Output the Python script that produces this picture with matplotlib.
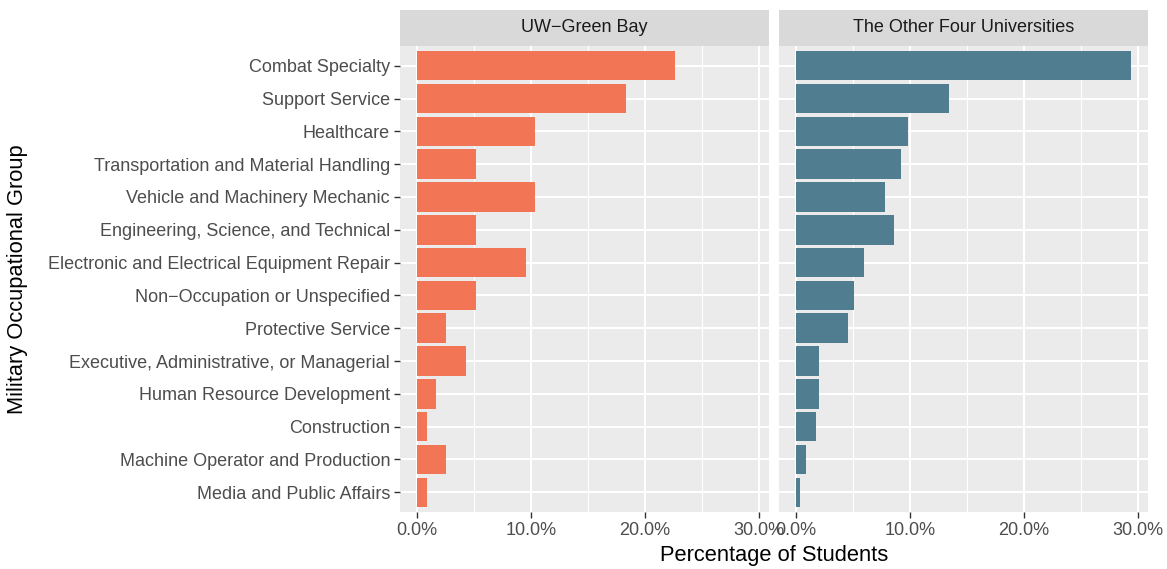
import numpy as np
from matplotlib import pyplot as plt

plt.rcParams['font.family'] = ['Liberation Sans', 'DejaVu Sans']

categories = [
    'Combat Specialty',
    'Support Service',
    'Healthcare',
    'Transportation and Material Handling',
    'Vehicle and Machinery Mechanic',
    'Engineering, Science, and Technical',
    'Electronic and Electrical Equipment Repair',
    'Non\u2212Occupation or Unspecified',
    'Protective Service',
    'Executive, Administrative, or Managerial',
    'Human Resource Development',
    'Construction',
    'Machine Operator and Production',
    'Media and Public Affairs',
]
green_bay = [22.6, 18.3, 10.4, 5.2, 10.4, 5.2, 9.6, 5.2, 2.6, 4.3, 1.7, 0.9, 2.6, 0.9]
other_four = [29.4, 13.4, 9.8, 9.2, 7.8, 8.6, 6.0, 5.1, 4.6, 2.0, 2.0, 1.8, 0.9, 0.4]
panel_titles = ['UW\u2212Green Bay', 'The Other Four Universities']
colors = ['#F27656', '#507D8F']
x_ticks = [0, 10, 20, 30]
x_tick_labels = ['0.0%', '10.0%', '20.0%', '30.0%']

W, H = 1167, 569
fig = plt.figure(figsize=(W / 100, H / 100), dpi=100)

panel_px = [(400, 769), (779, 1148)]
top, bottom, strip_top = 46, 512, 10
y = np.arange(len(categories))
xmax = max(max(green_bay), max(other_four))
xlim = (-0.05 * xmax, 1.05 * xmax)

for i, (vals, title, col) in enumerate(zip([green_bay, other_four], panel_titles, colors)):
    x0, x1 = panel_px[i]
    ax = fig.add_axes([x0 / W, (H - bottom) / H, (x1 - x0) / W, (bottom - top) / H])
    ax.set_facecolor('#EBEBEB')
    for s in ax.spines.values():
        s.set_visible(False)
    for m in [5, 15, 25]:
        ax.axvline(m, color='white', lw=0.8, zorder=0)
    for m in x_ticks:
        ax.axvline(m, color='white', lw=1.5, zorder=0)
    for yy in y:
        ax.axhline(yy, color='white', lw=1.5, zorder=0)
    ax.barh(y, vals, height=0.9, color=col, zorder=2)
    ax.set_xlim(xlim)
    ax.set_ylim(len(categories) - 0.4, -0.6)
    ax.set_xticks(x_ticks, x_tick_labels)
    ax.set_yticks(y, categories if i == 0 else [])
    ax.tick_params(axis='both', length=4, width=1.0, color='#333333',
                   labelsize=13, labelcolor='#4D4D4D', pad=3.2)
    if i == 1:
        ax.tick_params(axis='y', length=0)

    sax = fig.add_axes([x0 / W, (H - top) / H, (x1 - x0) / W, (top - strip_top) / H])
    sax.set_facecolor('#D9D9D9')
    sax.set_xticks([])
    sax.set_yticks([])
    for s in sax.spines.values():
        s.set_visible(False)
    sax.text(0.5, 0.5, title, ha='center', va='center', fontsize=13,
             color='#1A1A1A', transform=sax.transAxes)

fig.text(774 / W, 1 - 555 / H, 'Percentage of Students', ha='center', va='center',
         fontsize=15.75, color='black')
fig.text(18 / W, 1 - 279 / H, 'Military Occupational Group', ha='center', va='center',
         rotation=90, fontsize=15.75, color='black')

fig.savefig('out.png', dpi=100)
